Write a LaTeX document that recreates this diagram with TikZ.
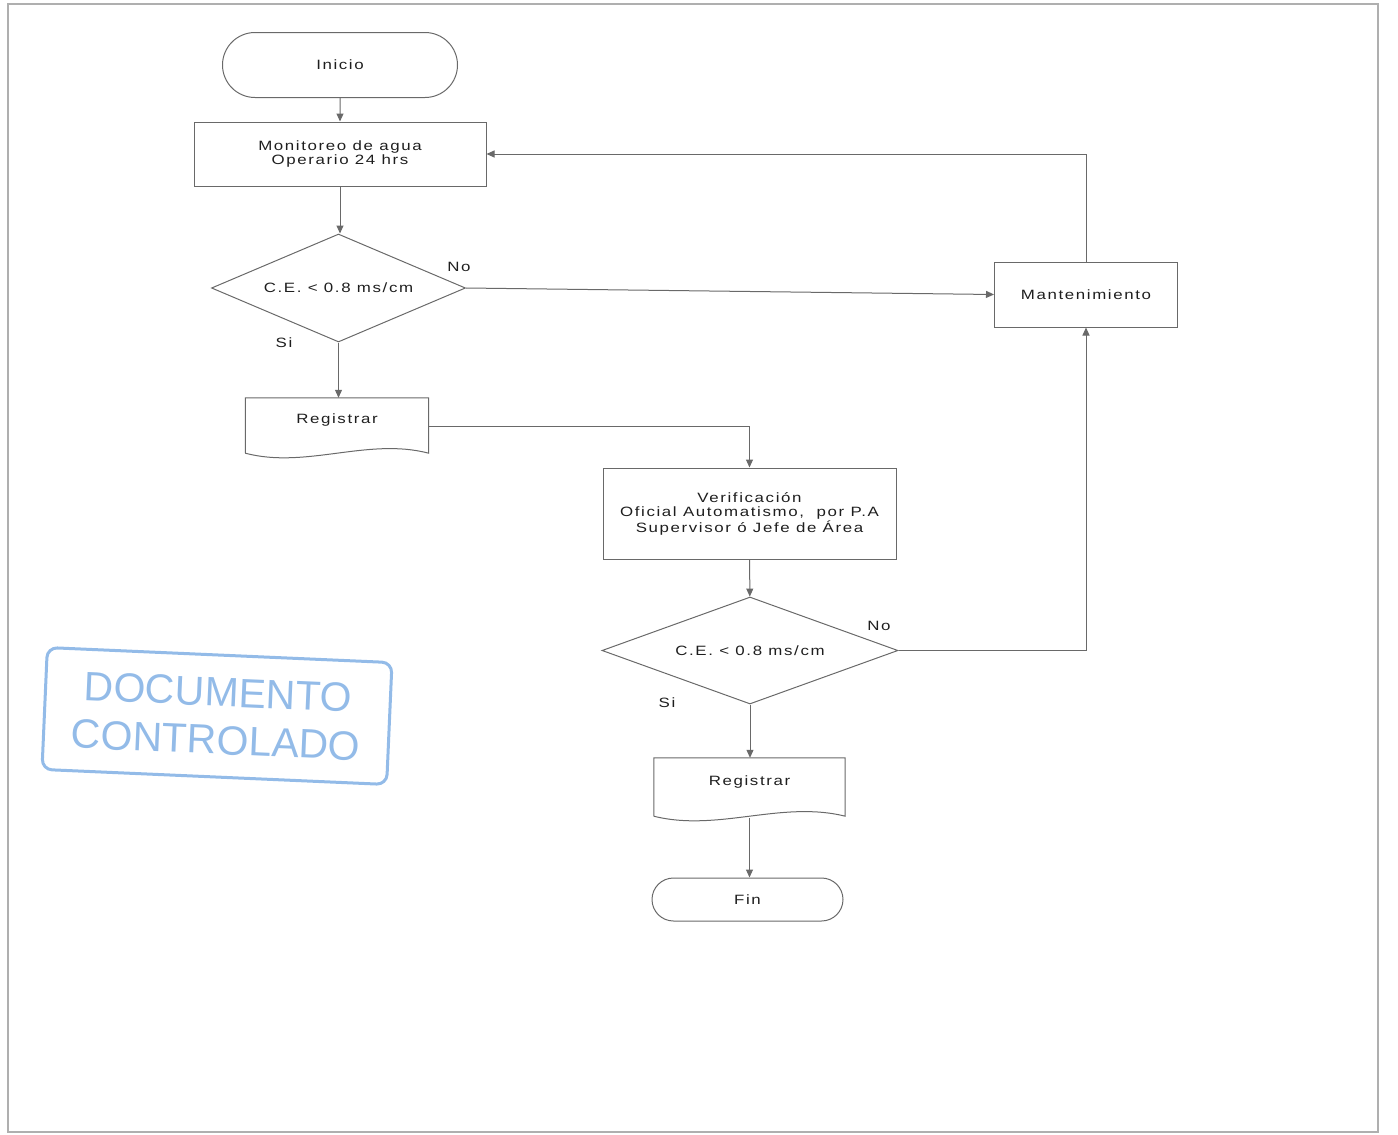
\documentclass[tikz,border=0pt]{standalone}
\usepackage{fontspec}
\setmainfont{Liberation Sans}
\usetikzlibrary{shapes.geometric,shapes.misc,arrows.meta,calc}
\definecolor{linegray}{RGB}{105,105,105}
\definecolor{txtgray}{RGB}{30,30,30}
\definecolor{stampblue}{RGB}{135,180,230}
\definecolor{framegray}{RGB}{175,175,175}
\begin{document}
\begin{tikzpicture}[x=1pt,y=-1pt,
  lbl/.style={font=\fontsize{13.5}{14.5}\selectfont\addfontfeature{FakeStretch=1.25,LetterSpace=12}, text=txtgray, inner sep=0pt},
  term/.style={lbl, rounded rectangle, draw=linegray, line width=1pt},
  proc/.style={lbl, rectangle, draw=linegray, line width=1pt, align=center},
  dec/.style={lbl, diamond, draw=linegray, line width=1pt, inner sep=0pt},
  docn/.style={lbl, rectangle, draw=none},
  docline/.style={draw=linegray, line width=1pt},
  arr/.style={draw=linegray, line width=1pt, -{Triangle[length=8pt,width=7pt]}}]
\useasboundingbox (0,0) rectangle (1398,1135);
\draw[framegray, line width=1.5pt] (8,4) rectangle (1378,1132);

% nodes
\node[term, minimum width=235pt, minimum height=65pt] (ini) at (340,65) {Inicio};
\node[proc, minimum width=292pt, minimum height=64pt] (mon) at (340,154) {Monitoreo de agua\\Operario 24 hrs};
\node[dec, aspect=2.35, minimum width=254pt, minimum height=108pt] (d1) at (338.5,288) {C.E. < 0.8 ms/cm};
\node[proc, minimum width=183pt, minimum height=65pt] (man) at (1086,294.5) {Mantenimiento};
\node[docn, minimum width=183pt, minimum height=57pt] (r1) at (337,426.5) {\raisebox{6pt}[\height][\depth]{Registrar}};
\node[proc, minimum width=293pt, minimum height=91pt] (ver) at (749.5,513.5) {Verificación\\Oficial Automatismo,~~por P.A\\Supervisor ó Jefe de Área};
\node[dec, aspect=2.77, minimum width=296pt, minimum height=107pt] (d2) at (750,650.5) {C.E. < 0.8 ms/cm};
\node[docn, minimum width=191pt, minimum height=60pt] (r2) at (749.5,788) {\raisebox{6pt}[\height][\depth]{Registrar}};
\node[term, minimum width=191pt, minimum height=43pt] (fin) at (747.5,899.5) {Fin};

% document shapes
\draw[docline] ([yshift=2pt]r1.south west) -- (r1.north west) -- (r1.north east) -- ([yshift=2pt]r1.south east)
  .. controls +(-61,-16) and +(61,16) .. ([yshift=2pt]r1.south west);
\draw[docline] ([yshift=2pt]r2.south west) -- (r2.north west) -- (r2.north east) -- ([yshift=2pt]r2.south east)
  .. controls +(-64,-16) and +(64,16) .. ([yshift=2pt]r2.south west);

% labels
\node[lbl] (no1) at (459,267) {No};
\node[lbl] (si1) at (284,343) {Si};
\node[lbl] (no2) at (879,626) {No};
\node[lbl] (si2) at (667,703) {Si};

% connectors
\draw[arr] (ini) -- (mon);
\draw[arr] (mon.south) -- (mon.south |- d1.north);
\draw[arr] (d1.east) -- (man.west);
\draw[arr] (man.north) |- (mon.east);
\draw[arr] (d1.south) -- (d1.south |- r1.north);
\draw[arr] (r1.east) -| (ver.north);
\draw[arr] (ver) -- (d2);
\draw[arr] (d2.east) -| (man.south);
\draw[arr] (d2.south) -- (d2.south |- r2.north);
\draw[arr] (r2.south) -- (r2.south |- fin.north);

% stamp
\node[draw=stampblue, line width=3pt, rounded corners=10pt, minimum width=345pt, minimum height=122pt,
  rotate=-2.5, text=stampblue, font=\fontsize{41}{48}\selectfont, align=center, opacity=0.9] (stamp) at (217,716) {DOCUMENTO\\CONTROLADO};
\end{tikzpicture}
\end{document}
